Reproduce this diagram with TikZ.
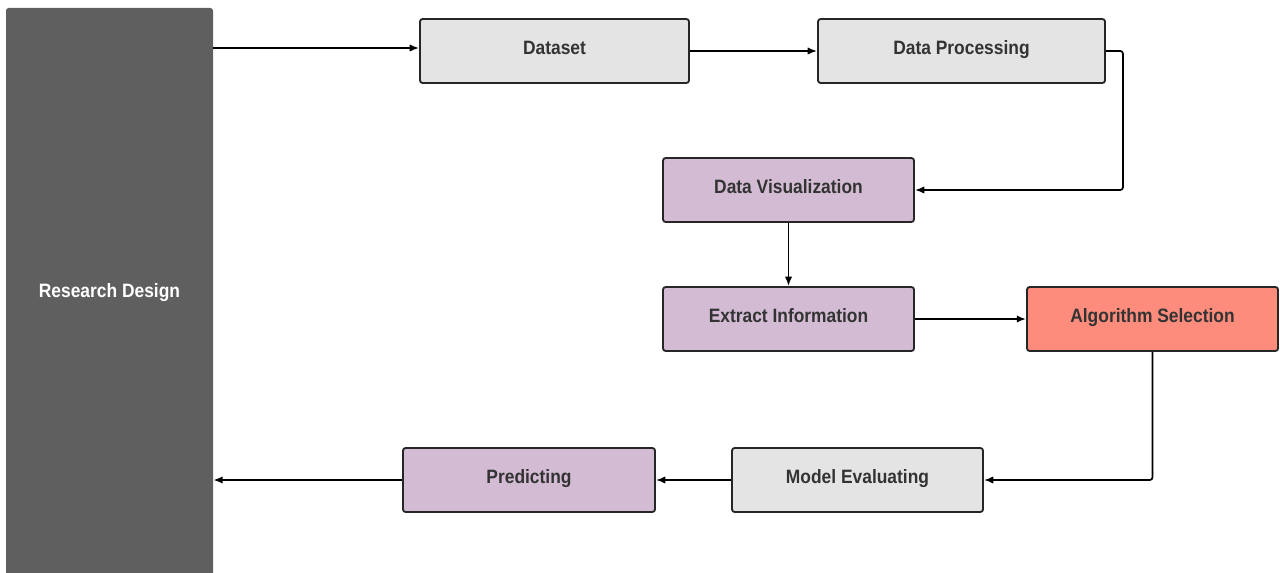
\documentclass[tikz,border=0pt]{standalone}
\usepackage{fontspec}
\setmainfont{Liberation Sans}[FakeStretch=0.9]
\usetikzlibrary{arrows.meta,positioning}

\definecolor{darkbox}{HTML}{5F5F5F}
\definecolor{greyfill}{HTML}{E4E4E4}
\definecolor{mauvefill}{HTML}{D3BCD3}
\definecolor{salmonfill}{HTML}{FE8C7C}
\definecolor{labeltext}{HTML}{333333}

\begin{document}
\begin{tikzpicture}[x=0.75pt,y=-0.75pt]

\tikzset{stepbox/.style={draw=black!85,line width=1.4pt,rounded corners=2pt,minimum width=251*0.75pt,minimum height=64*0.75pt,inner sep=0pt,text height=1.6ex,text depth=0.7ex,font=\fontsize{14.5}{16}\selectfont\bfseries,text=labeltext},
greybox/.style={stepbox,fill=greyfill},
mauvebox/.style={stepbox,fill=mauvefill},
salmonbox/.style={stepbox,fill=salmonfill},
flow/.style={line width=1.3pt,-{Latex[length=7pt,width=5.5pt]},rounded corners=2pt}}

\useasboundingbox (0,0) rectangle (1280,573);

% Left column
\node (design) [fill=darkbox,rounded corners=2pt,minimum width=207*0.75pt,minimum height=575*0.75pt,inner sep=0pt] at (109.5,295.5) {};
\node (designlabel) [font=\fontsize{14.5}{16}\selectfont\bfseries,text=white] at (109.5,292.5) {Research Design};

% Top row
\node (dataset) [greybox,minimum width=269*0.75pt] at (554.5,51) {Dataset};
\node (process) [greybox,minimum width=287*0.75pt] at (961.5,51) {Data Processing};

% Middle column
\node (visual) [mauvebox] at (788.5,190) {Data Visualization};
\node (extract) [mauvebox] at (788.5,319) {Extract Information};
\node (algo) [salmonbox] at (1152.5,319) {Algorithm Selection};

% Bottom row
\node (model) [greybox] at (857.5,480) {Model Evaluating};
\node (predict) [mauvebox,minimum width=252*0.75pt] at (529,480) {Predicting};

% Edges
\draw[flow] (design.east |- 0,48) -- (dataset.west |- 0,48);
\draw[flow] (dataset) -- (process);
\draw[flow] (process.east) -- ++(17,0) |- (visual.east);
\draw[flow] (visual) -- (extract);
\draw[flow] (extract) -- (algo);
\draw[flow] (algo.south) |- (model.east);
\draw[flow] (model) -- (predict);
\draw[flow] (predict.west) -- (design.east |- predict.west);

\end{tikzpicture}
\end{document}
